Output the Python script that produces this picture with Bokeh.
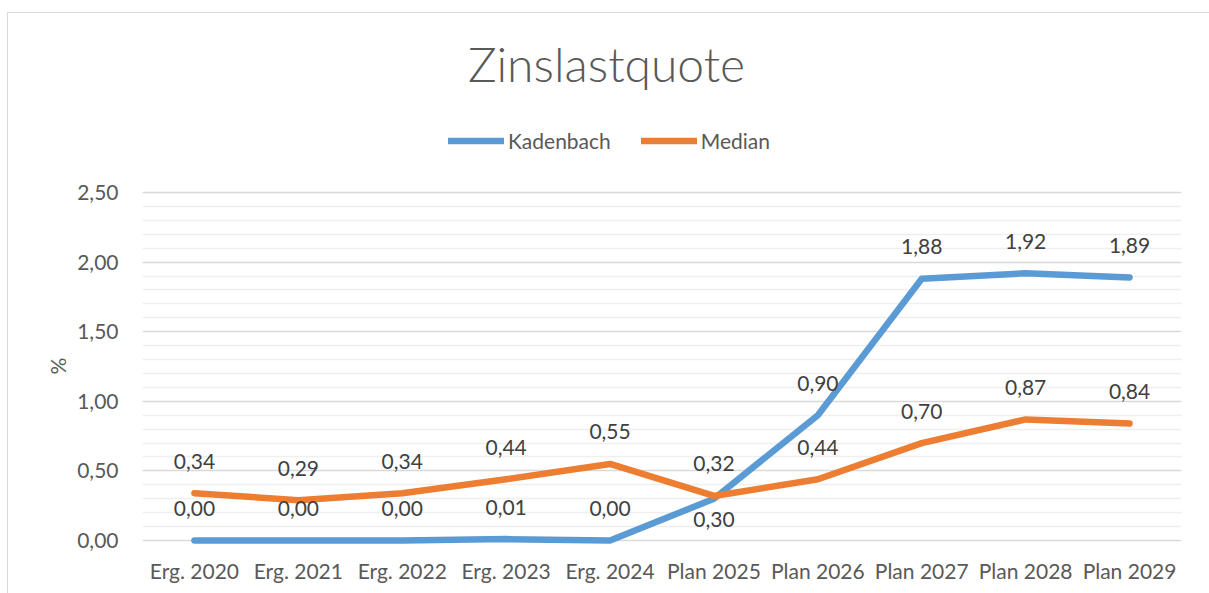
from bokeh.plotting import figure
from bokeh.models import (FactorRange, Range1d, FixedTicker, CustomJSTickFormatter,
                          Legend, LegendItem, ColumnDataSource, Title, Label)
from bokeh.core.properties import value
from bokeh.embed import file_html
from bokeh.resources import INLINE

categories = ["Erg. 2020", "Erg. 2021", "Erg. 2022", "Erg. 2023", "Erg. 2024",
              "Plan 2025", "Plan 2026", "Plan 2027", "Plan 2028", "Plan 2029"]
kadenbach = [0.00, 0.00, 0.00, 0.01, 0.00, 0.30, 0.90, 1.88, 1.92, 1.89]
median = [0.34, 0.29, 0.34, 0.44, 0.55, 0.32, 0.44, 0.70, 0.87, 0.84]
y_ticks = [0.0, 0.5, 1.0, 1.5, 2.0, 2.5]

FONT = "Lato"
GRAY = "#595959"
LABEL = "#404040"
BLUE = "#5b9bd5"
ORANGE = "#ed7d31"

p = figure(x_range=FactorRange(factors=categories, range_padding=0),
           y_range=Range1d(-0.043, 3.879),
           width=1209, height=593,
           min_border_left=142, min_border_right=28,
           min_border_top=0, min_border_bottom=47,
           output_backend="svg", toolbar_location=None, title=None)
p.styles = {"box-shadow": "inset 7px 12px 0 0 white, inset 8px 13px 0 0 #d9d9d9"}
p.outline_line_color = None
p.background_fill_color = None
p.border_fill_color = None

# axes
minor = [round(v / 10, 1) for v in range(1, 25) if v % 5 != 0]
p.yaxis.ticker = FixedTicker(ticks=y_ticks, minor_ticks=minor)
p.yaxis.formatter = CustomJSTickFormatter(code="return tick.toFixed(2).replace('.', ',');")
p.yaxis.axis_line_color = None
p.yaxis.major_tick_line_color = None
p.yaxis.minor_tick_line_color = None
p.yaxis.major_label_standoff = 18
p.yaxis.major_label_text_font = FONT
p.yaxis.major_label_text_font_size = "21px"
p.yaxis.major_label_text_color = GRAY

p.xaxis.axis_line_color = None
p.xaxis.major_tick_line_color = None
p.xaxis.minor_tick_line_color = None
p.xaxis.major_label_standoff = 5
p.xaxis.major_label_text_font = FONT
p.xaxis.major_label_text_font_size = "21px"
p.xaxis.major_label_text_color = GRAY

p.xgrid.grid_line_color = None
p.ygrid.grid_line_color = "#d9d9d9"
p.ygrid.grid_line_width = 1.5
p.ygrid.minor_grid_line_color = "#efefef"
p.ygrid.minor_grid_line_width = 1.5

# y axis title
ytitle = Title(text="%", align="left", offset=172, text_font=FONT,
               text_font_size="21px", text_font_style="normal",
               text_color=GRAY, standoff=10)
p.add_layout(ytitle, "left")

# series
src = ColumnDataSource(dict(
    x=categories, k=kadenbach, m=median,
    kt=[f"{v:.2f}".replace(".", ",") for v in kadenbach],
    mt=[f"{v:.2f}".replace(".", ",") for v in median],
    kdy=[21 if c == "Plan 2025" else -32 for c in categories],
))

r_k = p.line("x", "k", source=src, line_color=BLUE, line_width=6.5,
             line_cap="round", line_join="round")
r_m = p.line("x", "m", source=src, line_color=ORANGE, line_width=6.5,
             line_cap="round", line_join="round")

p.text("x", "k", text="kt", source=src, y_offset="kdy",
       text_align="center", text_baseline="middle",
       text_font=value(FONT), text_font_size="21px", text_color=LABEL)
p.text("x", "m", text="mt", source=src, y_offset=-32,
       text_align="center", text_baseline="middle",
       text_font=value(FONT), text_font_size="21px", text_color=LABEL)

legend = Legend(items=[LegendItem(label="Kadenbach", renderers=[r_k]),
                       LegendItem(label="Median", renderers=[r_m])],
                orientation="horizontal", location=(306, 393),
                glyph_width=56, glyph_height=25, label_standoff=4, spacing=30,
                padding=0, margin=0, border_line_color=None,
                background_fill_alpha=0,
                label_text_font=FONT, label_text_font_size="21px",
                label_text_color=GRAY)
p.add_layout(legend, "center")

# chart title
title = Label(x=4.466, y=3.427, text="Zinslastquote", text_align="center",
              text_baseline="alphabetic", text_font="Lato Light", text_font_size="48px",
              text_color=GRAY)
p.add_layout(title)

open("out.html", "w").write(file_html(p, INLINE))
